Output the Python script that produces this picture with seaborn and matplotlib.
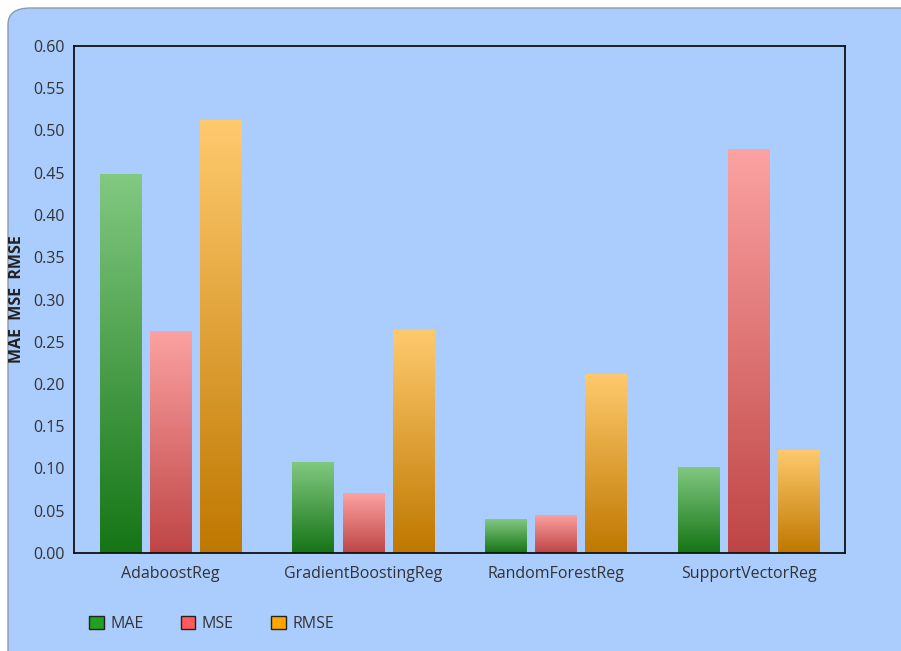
import matplotlib
matplotlib.use("Agg")
import matplotlib.pyplot as plt
from matplotlib.patches import FancyBboxPatch, Patch
import seaborn as sns
import pandas as pd
import numpy as np

# data
models = ["AdaboostReg", "GradientBoostingReg", "RandomForestReg", "SupportVectorReg"]
mae = [0.449, 0.108, 0.040, 0.102]
mse = [0.263, 0.071, 0.045, 0.478]
rmse = [0.512, 0.264, 0.212, 0.122]
metrics = ["MAE", "MSE", "RMSE"]
y_ticks = [0.00, 0.05, 0.10, 0.15, 0.20, 0.25, 0.30, 0.35, 0.40, 0.45, 0.50, 0.55, 0.60]

legend_colors = {"MAE": "#22a022", "MSE": "#ff5b5b", "RMSE": "#ffa500"}
# gradient colours (top, bottom) for each metric
grad_colors = {
    "MAE": ("#82c982", "#157515"),
    "MSE": ("#fca2a2", "#bf4545"),
    "RMSE": ("#ffca6e", "#bf7800"),
}

df = pd.DataFrame({"Model": models, "MAE": mae, "MSE": mse, "RMSE": rmse})
df_long = df.melt(id_vars="Model", var_name="Metric", value_name="Value")

sns.set_style("white")
plt.rcParams["font.family"] = ["Open Sans", "DejaVu Sans"]

panel = "#abcdfd"
fig = plt.figure(figsize=(9.01, 6.51), dpi=100)
fig.patch.set_facecolor("white")
# panel runs off the right and bottom edges, only top-left corner visible
bg = FancyBboxPatch((8 / 901, -0.1), 1.2, 1.1 - 8 / 651,
                    boxstyle="round,pad=0,rounding_size=0.025",
                    transform=fig.transFigure, facecolor=panel,
                    edgecolor="#8f9aa8", linewidth=1.0, zorder=-5)
fig.patches.append(bg)

ax = fig.add_axes([74 / 901, 1 - 553 / 651, 771 / 901, 507 / 651])
ax.set_zorder(2)
ax.set_facecolor(panel)

sns.barplot(data=df_long, x="Model", y="Value", hue="Metric", order=models,
            hue_order=metrics, palette=legend_colors, width=0.78, gap=0.18,
            ax=ax, legend=False, saturation=1)

# replace flat fills with vertical gradients
gradient = np.linspace(0, 1, 256).reshape(-1, 1)
for container, metric in zip(ax.containers, metrics):
    top, bottom = grad_colors[metric]
    cmap = matplotlib.colors.LinearSegmentedColormap.from_list(metric, [bottom, top])
    for bar in container:
        x0, y0 = bar.get_x(), bar.get_y()
        w, h = bar.get_width(), bar.get_height()
        bar.set_facecolor("none")
        bar.set_edgecolor("none")
        im = ax.imshow(gradient, cmap=cmap, aspect="auto", origin="lower",
                       extent=[x0, x0 + w, y0, y0 + h], zorder=2)
        im.set_clip_path(bar)

ax.set_xlim(-0.5, 3.5)
ax.set_ylim(0, 0.6)
ax.set_yticks(y_ticks)
ax.set_yticklabels([f"{v:.2f}" for v in y_ticks])
ax.tick_params(axis="both", length=0, labelsize=11.5, colors="#333333", pad=7)
ax.tick_params(axis="x", pad=9)
ax.set_xlabel("")
ax.set_ylabel("MAE  MSE  RMSE", fontsize=11.5, fontweight="bold", color="#222222")
ax.yaxis.set_label_coords(-0.063, 0.5)
for s in ax.spines.values():
    s.set_color("#111111")
    s.set_linewidth(1.3)

handles = [Patch(facecolor=legend_colors[m], edgecolor="#222222", linewidth=1.0, label=m)
           for m in metrics]
fig.legend(handles=handles, loc="center left", bbox_to_anchor=(75 / 901, 1 - 624 / 651),
           ncol=3, frameon=False, fontsize=11.5, handlelength=0.9, handleheight=0.9,
           handletextpad=0.4, columnspacing=2.35, labelcolor="#333333")

fig.savefig("out.png", dpi=100, facecolor=fig.get_facecolor())
